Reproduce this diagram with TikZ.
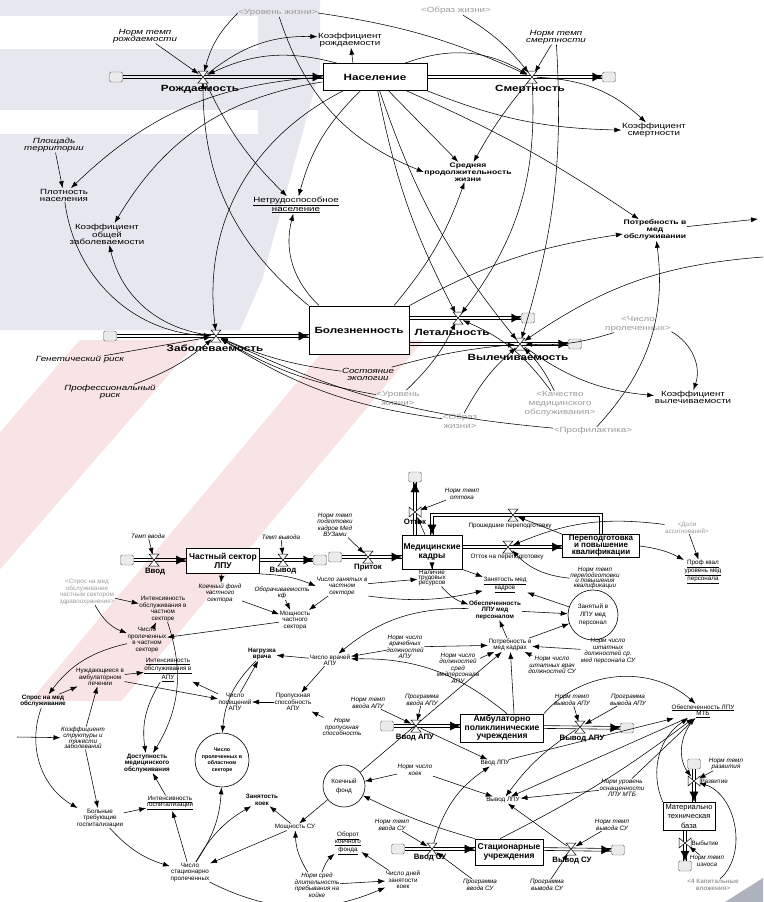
\documentclass[tikz,border=0pt]{standalone}
\usepackage{fontspec}
\setmainfont{Liberation Sans}
\newfontfamily\topfont{Liberation Sans}[FakeStretch=1.3]
\usetikzlibrary{arrows.meta,calc,decorations.markings}

\definecolor{shadowgray}{HTML}{9A9A9A}
\definecolor{lavbg}{HTML}{E7E7EF}
\definecolor{pinkbg}{HTML}{F8E4E4}
\definecolor{swoosh}{HTML}{AEB2BD}

\newcommand\valveh[1]{\draw[valvebox] (#1.center) +(-5,-6) -- +(5,-6) -- +(-5,6) -- +(5,6) -- cycle;}
\newcommand\valvev[1]{\draw[valvebox] (#1.center) +(-6,-5) -- +(-6,5) -- +(6,-5) -- +(6,5) -- cycle;}
% horizontal and vertical flow pipes: two rails and a head
\newcommand\hpipe[2]{%
  \draw[pipeline, transform canvas={yshift=1.4pt}] #1 -- #2;
  \draw[pipeline, transform canvas={yshift=-1.4pt}] #1 -- #2;
  \path[pipehead] #1 -- #2;}
\newcommand\vpipe[2]{%
  \draw[pipeline, transform canvas={xshift=1.4pt}] #1 -- #2;
  \draw[pipeline, transform canvas={xshift=-1.4pt}] #1 -- #2;
  \path[pipehead] #1 -- #2;}

\tikzset{
  t/.style={align=center, inner sep=0.5pt, font=\topfont\fontsize{7.5}{7}\selectfont},
  ti/.style={t, font=\topfont\itshape\fontsize{7.5}{7}\selectfont},
  tg/.style={t, text=shadowgray, font=\topfont\fontsize{7.5}{9}\selectfont},
  tb/.style={t, font=\topfont\bfseries\fontsize{9}{9}\selectfont},
  tbs/.style={t, font=\topfont\bfseries\fontsize{6.6}{7}\selectfont},
  b/.style={align=center, inner sep=0.5pt, font=\fontsize{6.3}{6.5}\selectfont},
  bi/.style={b, font=\itshape\fontsize{6.3}{6.5}\selectfont},
  bg/.style={b, text=shadowgray},
  bb/.style={b, font=\bfseries\fontsize{6.3}{6.5}\selectfont},
  sb/.style={b, font=\bfseries\fontsize{8.5}{8.5}\selectfont},
  flowlbl/.style={b, font=\bfseries\fontsize{7.8}{8}\selectfont},
  stock/.style={draw, fill=white, line width=0.8pt},
  cloudbox/.style={draw=black!60, fill=black!8, rounded corners=1.5pt, minimum width=13pt, minimum height=10pt, inner sep=0pt},
  hub/.style={draw, circle, fill=white, line width=0.6pt, inner sep=0pt},
  valvept/.style={circle, minimum size=10pt, inner sep=0pt},
  valvebox/.style={fill=white, line width=0.5pt},
  link/.style={-{Latex[length=7pt,width=5pt]}, line width=0.55pt},
  pipeline/.style={line width=0.6pt},
  pipehead/.style={postaction={decorate}, decoration={markings, mark=at position 1 with {\arrow{Latex[length=10pt,width=9pt]}}}},
  ccw/.style={bend right=#1},
  cw/.style={bend left=#1},
}

\begin{document}
\begin{tikzpicture}[x=1pt,y=-1pt]
%%%%% START %%%%%
\useasboundingbox (0,0) rectangle (763,902);

% background watermark
\begin{scope}
\clip (0,340) rectangle (763,700);
\draw[pinkbg, line width=90pt] (-60,570) -- (200,270);
\draw[pinkbg, line width=70pt, line cap=round] (60,720) -- (420,290);
\end{scope}
\fill[lavbg] (0,0) -- (320,0) -- (320,70) -- (262,280) -- (240,330) -- (0,330) -- cycle;
\fill[white] (0,16) rectangle (258,49);
\fill[white] (0,110) rectangle (258,134);
\fill[swoosh] (725,902) -- (763,878) -- (763,902) -- cycle;

%%%%% population %%%%%
\node[tg] (shUrov) at (278,13) {<Уровень жизни>};
\node[tg] (shObraz) at (456,11) {<Образ жизни>};
\node[ti] (nBirthRate) at (145,36) {Норм темп\\рождаемости};
\node[t] (kBirth) at (350,40) {Коэффициент\\рождаемости};
\node[ti] (nDeathRate) at (556,37) {Норм темп\\смертности};
\node[cloudbox] (srcBirth) at (116,77) {};
\node[valvept] (birth) at (203,77) {};
\node[tb] (birthLbl) at (200,89) {Рождаемость};
\node[stock, tb, minimum width=104, minimum height=27] (pop) at (375,77) {Население};
\node[valvept] (death) at (532,77) {};
\node[tb] (deathLbl) at (530,89) {Смертность};
\node[cloudbox] (sinkDeath) at (609,77) {};
\node[t] (kDeath) at (654,130) {Коэффициент\\смертности};
\node[tbs] (lifeExp) at (468,172) {Средняя\\продолжительность\\жизни};
\node[ti] (area) at (54,145) {Площадь\\территории};
\node[t] (density) at (64,195) {Плотность\\населения};
\node[t] (kMorb) at (107,234) {Коэффициент\\общей\\заболеваемости};
\node[t] (disabled) at (296,205) {\underline{Нетрудоспособное}\\\underline{население}};
\node[tbs] (needMed) at (655,230) {Потребность в\\мед\\обслуживании};
\coordinate (needOut) at (758,219);
\coordinate (edgeR) at (763,257);

%%%%% morbidity %%%%%
\node[cloudbox] (srcMorb) at (110,336) {};
\node[valvept] (morb) at (216,336) {};
\node[tb] (morbLbl) at (215,348) {Заболеваемость};
\node[stock, tb, minimum width=100, minimum height=48] (illness) at (359,330) {Болезненность};
\node[valvept] (lethal) at (458,318) {};
\node[tb] (lethalLbl) at (452,332) {Летальность};
\node[cloudbox] (sinkLethal) at (528,318) {};
\node[valvept] (cure) at (520,344) {};
\node[tb] (cureLbl) at (518,357) {Вылечиваемость};
\node[cloudbox] (sinkCure) at (575,344) {};
\node[ti] (ecology) at (368,374) {Состояние\\экологии};
\node[tg] (shUrov2) at (398,398) {<Уровень\\жизни>};
\node[tg] (shObraz2) at (460,421) {<Образ\\жизни>};
\node[tg] (shCount) at (638,324) {<Число\\пролеченных>};
\node[ti] (genRisk) at (80,360) {Генетический риск};
\node[ti] (profRisk) at (110,392) {Профессиональный\\риск};
\node[t] (kCure) at (693,397) {Коэффициент\\вылечиваемости};
\node[tg] (shQual) at (560,404) {<Качество\\медицинского\\обслуживания>};
\node[tg] (shProf) at (593,431) {<Профилактика>};

\hpipe{(srcBirth)}{(pop.west |- srcBirth)}
\hpipe{(pop.east |- death)}{(sinkDeath)}
\hpipe{(srcMorb)}{(srcMorb -| illness.west)}
\hpipe{(illness.east |- lethal)}{(sinkLethal)}
\hpipe{(illness.east |- cure)}{(sinkCure)}

\draw[link] (nBirthRate) -- (birth);
\draw[link] (shUrov.west) to[ccw=15] (birth);
\draw[link] (pop.160) to[ccw=20] (birth);
\draw[link] (birth) to[cw=20] (kBirth);
\draw[link] ([xshift=-22]pop.north) -- (kBirth);
\draw[link] (nDeathRate) -- (death);
\draw[link] (shObraz) to[cw=10] (death);
\draw[link] (shUrov.east) to[cw=8] (death);
\draw[link] ([xshift=30]pop.north) to[cw=25] (death);
\draw[link] (death) to[cw=20] (kDeath);
\draw[link] (pop.south east) to[ccw=10] (kDeath);
\draw[link] (pop) -- (lifeExp);
\draw[link] (death) to[ccw=5] (lifeExp);
\draw[link] (shUrov) to[ccw=25] (lifeExp.west);
\draw[link] (pop) to[ccw=15] (disabled);
\draw[link] (birth) to[ccw=10] (disabled);
\draw[link] (pop.west) to[ccw=20] (density);
\draw[link] (area) -- (density);
\draw[link] (pop) to[ccw=25] (kMorb);
\draw[link] (density) to[ccw=40] (morb);
\draw[link] (morb) to[cw=35] (kMorb);
\draw[link] (pop) to[ccw=35] (morb);
\draw[link] (illness.north west) to[cw=25] (birth);
\draw[link] (genRisk) -- (morb);
\draw[link] (profRisk) to[ccw=10] (morb);
\draw[link] (ecology) to[cw=8] (morb);
\draw[link] (shUrov2) to[cw=10] (morb);
\draw[link] (shObraz2) to[cw=12] (morb);
\draw[link] (shProf) to[cw=10] (morb);
\draw[link] (shProf) to[ccw=25] (needMed);
\draw[link] ([xshift=-40]illness.north) to[cw=30] (disabled);
\draw[link] (illness.north east) to[cw=10] (needMed);
\draw[link] (pop) to[ccw=8] (lethal);
\draw[link] (pop) to[ccw=10] (cure);
\draw[link] ([xshift=35]illness.north) to[ccw=10] (lifeExp);
\draw[link] (cure) to[ccw=15] (kCure);
\draw[link] (shCount) to[cw=10] (cure);
\draw[link] (shCount) to[cw=40] (kCure);
\draw[link] (shQual) to[ccw=10] (cure);
\draw[link] (shQual) to[ccw=15] (lethal);
\draw[link] (edgeR) to[ccw=15] (cure);
\draw[link] (pop) to[cw=5] (needMed);
\draw[link] (nDeathRate) to[cw=10] (cure);
\draw[link] (death) to[cw=20] (lethal);
\draw[link] (ecology) to[cw=5] (cure);
\draw[link] (shUrov2) to[ccw=10] (lethal);
\draw[link] (shObraz2) to[cw=10] (cure);
\draw[link] (needMed) -- (needOut);

\valveh{birth}
\valveh{death}
\valveh{morb}
\valveh{lethal}
\valveh{cure}

%%%%% private sector and staff %%%%%
\node[bi] (tempIn) at (148,536) {Темп ввода};
\node[cloudbox] (srcPriv) at (127,560) {};
\node[valvept] (pIn) at (154,560) {};
\node[flowlbl] (pInLbl) at (155,572) {Ввод};
\node[stock, sb, minimum width=73, minimum height=25] (privSec) at (223,561) {Частный сектор\\ЛПУ};
\node[valvept] (pOut) at (283,560) {};
\node[flowlbl] (pOutLbl) at (283,571) {Вывод};
\node[cloudbox] (sinkPriv) at (320,560) {};
\node[bi] (tempOut) at (281,537) {Темп вывода};
\node[bi] (bedsPriv) at (220,593) {Коечный фонд\\частного\\сектора};
\node[bi] (turnover) at (282,593) {Оборачиваемость\\кф};
\node[bi] (busyPriv) at (342,586) {Число занятых в\\частном\\секторе};
\node[b] (powPriv) at (295,620) {Мощность\\частного\\сектора};
\node[cloudbox] (srcStaff) at (335,557) {};
\node[valvept] (inflow) at (368,557) {};
\node[flowlbl] (inflowLbl) at (368,568) {Приток};
\node[bi] (nTrain) at (335,525) {Норм темп\\подготовки\\кадров Мед\\ВУЗами};
\node[stock, sb, minimum width=60, minimum height=34] (staff) at (432,552) {Медицинские\\кадры};
\node[valvept] (outflow) at (415,512) {};
\node[flowlbl] (outflowLbl) at (415,522) {Отток};
\node[cloudbox] (sinkStaff) at (415,477) {};
\node[bi] (nOut) at (462,494) {Норм темп\\оттока};
\coordinate (loopTL) at (432,515);
\coordinate (loopTR) at (601,515);
\node[valvept] (retrained) at (513,515) {};
\node[b] (retrainedLbl) at (510,526) {Прошедшие переподготовку};
\node[valvept] (toRetrain) at (508,547) {};
\node[b] (toRetrainLbl) at (507,557) {Отток на переподготовку};
\node[stock, sb, font=\bfseries\fontsize{8}{7}\selectfont, minimum width=77, minimum height=23] (retrain) at (601,546) {Переподготовка\\и повышение\\квалификации};
\node[bg] (shShare) at (687,528) {<Доли\\ассигнований>};
\node[b] (profLevel) at (703,572) {\underline{Проф квал}\\\underline{уровень мед}\\\underline{персонала}};
\node[bi, font=\itshape\fontsize{6.3}{5}\selectfont] (nRetrain) at (595,578) {Норм темп\\переподготовки\\и повышения\\квалификации};
\node[b, font=\fontsize{6.3}{5}\selectfont] (labour) at (432,578) {Наличие\\трудовых\\ресурсов};
\node[b] (employ) at (505,585) {\underline{Занятость мед}\\\underline{кадров}};
\node[bb] (provStaff) at (495,610) {Обеспеченность\\ЛПУ мед\\персоналом};
\node[hub, b, font=\fontsize{6.3}{8}\selectfont, minimum size=50] (hubStaff) at (593,615) {Занятый в\\ЛПУ мед\\персонал};
\node[b] (needStaff) at (510,645) {Потребность в\\мед кадрах};
\node[bi] (nMidSU) at (608,651) {Норм число\\штатных\\должностей ср.\\мед персонала СУ};
\node[bi] (nDocSU) at (552,665) {Норм число\\штатных врач\\должностей СУ};
\node[bi] (nDocAPU) at (405,647) {Норм число\\врачебных\\должностей\\АПУ};
\node[b] (docAPU) at (330,660) {Число врачей\\АПУ};
\node[bb] (load) at (262,654) {Нагрузка\\врача};
\node[bi] (nMidAPU) at (458,668) {Норм число\\должностей\\сред\\медперсонала\\АПУ};

\hpipe{(srcPriv)}{(srcPriv -| privSec.west)}
\hpipe{(privSec.east |- pOut)}{(sinkPriv)}
\hpipe{(srcStaff)}{(srcStaff -| staff.west)}
\vpipe{(staff.north -| outflow)}{(sinkStaff)}
\hpipe{(staff.east |- toRetrain)}{(toRetrain -| retrain.west)}
% retraining loop back into the staff stock
\draw[pipeline] ([xshift=1.4]retrain.north) -- ($(loopTR)+(1.4,-1.4)$) -- ($(loopTL)+(-1.4,-1.4)$) -- ([xshift=-1.4]staff.north);
\draw[pipeline] ([xshift=-1.4]retrain.north) -- ($(loopTR)+(-1.4,1.4)$) -- ($(loopTL)+(1.4,1.4)$) -- ([xshift=1.4]staff.north);
\path[pipehead] (loopTL) -- (staff.north);

\draw[link] (tempIn) -- (pIn);
\draw[link] (tempOut) -- (pOut);
\draw[link] (privSec) -- (bedsPriv);
\draw[link] (bedsPriv) -- (powPriv);
\draw[link] (turnover) -- (powPriv);
\draw[link] (busyPriv) -- (powPriv);
\draw[link] (privSec.south east) to[cw=10] (busyPriv.west);
\draw[link] (busyPriv) -- (labour);
\draw[link] (busyPriv.south east) to[ccw=10] (employ);
\draw[link] (staff) -- (labour);
\draw[link] (labour) to[ccw=15] (provStaff);
\draw[link] (staff.south east) -- (employ);
\draw[link] (hubStaff) -- (employ);
\draw[link] (provStaff) -- (hubStaff);
\draw[link] (needStaff) -- (hubStaff);
\draw[link] (nMidSU) -- (needStaff);
\draw[link] (nDocSU) -- (needStaff);
\draw[link] (needStaff) -- (provStaff);
\draw[link] (nDocAPU) -- (needStaff);
\draw[link] (nDocAPU) -- (docAPU);
\draw[link] (nMidAPU) -- (needStaff);
\draw[link] (provStaff) to[ccw=20] (docAPU);
\draw[link] (docAPU) -- (load);
\draw[link] (shShare) -- (profLevel);
\draw[link] (retrain.east) to[cw=10] (profLevel);
\draw[link] (shShare) to[ccw=15] (toRetrain);
\draw[link] (retrain.north west) -- (retrained);
\draw[link] (nRetrain) to[cw=20] (toRetrain);
\draw[link] (nOut) -- (outflow);
\draw[link] ([xshift=-7]staff.north) -- (outflow);
\draw[link] (nTrain) -- (inflow);

\valveh{pIn}
\valveh{pOut}
\valveh{inflow}
\valvev{outflow}
\valveh{retrained}
\valveh{toRetrain}

%%%%% demand and institutions %%%%%
\node[bg] (shDemand) at (87,592) {<Спрос на мед\\обслуживание\\частным сектором\\здравоохранения>};
\node[b] (intPriv) at (163,609) {Интенсивность\\обслуживания в\\частном\\секторе};
\node[b] (curedPriv) at (147,640) {Число\\пролеченных\\в частном\\секторе};
\node[b] (needAmb) at (100,677) {Нуждающиеся в\\амбулаторном\\лечении};
\node[b] (intAPU) at (168,670) {\underline{Интенсивность}\\\underline{обслуживания в}\\\underline{АПУ}};
\node[bb] (demand) at (43,701) {Спрос на мед\\обслуживание};
\node[b] (visits) at (235,702) {Число\\посещений\\АПУ};
\node[b] (capAPU) at (293,702) {Пропускная\\способность\\АПУ};
\node[bi] (nTempInAPU) at (368,703) {Норм темп\\ввода АПУ};
\node[bi] (progInAPU) at (422,700) {Программа\\ввода АПУ};
\node[bi] (nCap) at (342,727) {Норм\\пропускная\\способность};
\node[cloudbox] (srcAPU) at (387,726) {};
\node[valvept] (inAPU) at (416,726) {};
\node[flowlbl] (inAPULbl) at (415,738) {Ввод АПУ};
\node[stock, sb, minimum width=83, minimum height=28] (apu) at (502,728) {Амбулаторно\\поликлинические\\учреждения};
\node[valvept] (outAPU) at (580,727) {};
\node[flowlbl] (outAPULbl) at (582,739) {Вывод АПУ};
\node[cloudbox] (sinkAPU) at (627,728) {};
\node[bi] (nTempOutAPU) at (572,700) {Норм темп\\вывода АПУ};
\node[bi] (progOutAPU) at (628,700) {Программа\\вывода АПУ};
\node[b] (provMTB) at (703,711) {\underline{Обеспеченность ЛПУ}\\\underline{МТБ}};
\node[hub, b, font=\bfseries\fontsize{5.3}{6.5}\selectfont, minimum size=54] (hubCured) at (222,760) {Число\\пролеченных в\\областном\\секторе};
\node[bb] (access) at (147,763) {Доступность\\медицинского\\обслуживания};
\node[bi, font=\itshape\fontsize{6.3}{4.5}\selectfont] (kSev) at (83,738) {Коэффициент\\структуры и\\тяжести\\заболеваний};
\coordinate (edgeL) at (17,737);
\node[b] (sick) at (100,818) {Больные\\требующие\\госпитализации};
\node[b] (intHosp) at (170,803) {\underline{Интенсивность}\\\underline{госпитализации}};
\node[b] (curedHosp) at (190,872) {Число\\стационарно\\пролеченных};
\node[bb] (bedLoad) at (262,800) {Занятость\\коек};
\node[b] (powSU) at (295,827) {Мощность СУ};
\node[hub, b, font=\fontsize{6.3}{9}\selectfont, minimum size=42] (hubBeds) at (344,786) {Коечный\\фонд};
\node[bi] (nBeds) at (415,770) {Норм число\\коек};
\node[b] (inLPU) at (495,763) {Ввод ЛПУ};
\node[b] (outLPU) at (503,800) {Вывод ЛПУ};
\node[bi] (nEquip) at (622,788) {Норм уровень\\оснащенности\\ЛПУ МТБ};
\node[cloudbox] (srcMTB) at (694,764) {};
\node[valvept] (dev) at (694,781) {};
\node[b, anchor=west] (devLbl) at (700,781) {Развитие};
\node[bi] (nDev) at (726,764) {Норм темп\\развития};
\node[stock, b, font=\fontsize{7.5}{9.5}\selectfont, line width=0.6pt, minimum width=52, minimum height=28] (mtb) at (689,816) {Материально\\техническая\\база};
\node[valvept] (wear) at (685,843) {};
\node[b, anchor=west] (wearLbl) at (691,843) {Выбытие};
\node[cloudbox] (sinkMTB) at (685,866) {};
\node[bi] (nWear) at (707,861) {Норм темп\\износа};
\node[bg, font=\bfseries\fontsize{6.3}{6.5}\selectfont] (shInvest) at (713,885) {<4 Капитальные\\вложения>};
\node[b] (bedTurn) at (348,843) {\underline{Оборот}\\\underline{коечного}\\\underline{фонда}};
\node[bi] (nTempInSU) at (392,825) {Норм темп\\ввода СУ};
\node[cloudbox] (srcSU) at (398,849) {};
\node[valvept] (inSU) at (432,849) {};
\node[flowlbl] (inSULbl) at (430,858) {Ввод СУ};
\node[stock, sb, minimum width=68, minimum height=26] (su) at (509,852) {Стационарные\\учреждения};
\node[valvept] (outSU) at (571,849) {};
\node[flowlbl] (outSULbl) at (572,861) {Вывод СУ};
\node[cloudbox] (sinkSU) at (618,850) {};
\node[bi] (nTempOutSU) at (612,825) {Норм темп\\вывода СУ};
\node[bi] (progOutSU) at (547,885) {Программа\\вывода СУ};
\node[bi] (progInSU) at (480,885) {Программа\\ввода СУ};
\node[b] (bedDays) at (403,880) {Число дней\\занятости\\коек};
\node[bi] (nStay) at (317,885) {Норм сред\\длительность\\пребывания на\\койке};

\hpipe{(srcAPU)}{(srcAPU -| apu.west)}
\hpipe{(apu.east |- outAPU)}{(sinkAPU)}
\hpipe{(srcSU)}{(srcSU -| su.west)}
\hpipe{(su.east |- outSU)}{(sinkSU)}
\vpipe{(srcMTB)}{(srcMTB |- mtb.north)}
\vpipe{(mtb.south -| wear)}{(sinkMTB)}

\draw[link] (docAPU) -- (capAPU);
\draw[link] (nCap) -- (capAPU);
\draw[link] (capAPU) -- (visits);
\draw[link] ([xshift=5]apu.north) to[ccw=20] (docAPU);
\draw[link] ([xshift=12]apu.north) -- (needStaff);
\draw[link] (apu.north east) to[cw=45] (provMTB);
\draw[link] (inAPU) -- (inLPU);
\draw[link] (nTempInAPU) -- (inAPU);
\draw[link] (progInAPU) -- (inAPU);
\draw[link] (nTempOutAPU) -- (outAPU);
\draw[link] (progOutAPU) -- (outAPU);
\draw[link] (outAPU) to[ccw=10] (outLPU);
\draw[link] (hubBeds) -- (powSU);
\draw[link] (nBeds) -- (hubBeds);
\draw[link] (nBeds) -- (outLPU);
\draw[link] (su.north west) to[cw=5] (hubBeds);
\draw[link] (hubBeds) -- (needStaff);
\draw[link] (inSU) to[cw=20] (inLPU);
\draw[link] (outSU) -- (outLPU);
\draw[link] (nTempInSU) -- (inSU);
\draw[link] (progInSU) -- (inSU);
\draw[link] (nTempOutSU) -- (outSU);
\draw[link] (progOutSU) -- (outSU);
\draw[link] ([xshift=-9]su.north) to[ccw=5] (provMTB);
\draw[link] (inLPU) -- (provMTB);
\draw[link] (provMTB) -- (outLPU);
\draw[link] (nEquip) -- (outLPU);
\draw[link] (nEquip) -- (provMTB);
\draw[link] (provMTB) to[ccw=40] (dev);
\draw[link] (mtb.north west) to[cw=40] (provMTB);
\draw[link] (nDev) -- (dev);
\draw[link] (shInvest) to[ccw=60] (dev);
\draw[link] (nWear) -- (wear);
\draw[link] (shDemand) -- (intPriv);
\draw[link] (shDemand) to[ccw=20] (curedPriv);
\draw[link] (curedPriv) -- (intPriv);
\draw[link] (powPriv) -- (curedPriv);
\draw[link] (intPriv) to[cw=25] (access);
\draw[link] (curedPriv) to[ccw=20] (demand);
\draw[link] (needAmb) -- (intAPU);
\draw[link] (demand) -- (needAmb);
\draw[link] (needAmb) -- (visits);
\draw[link] (visits) -- (intAPU);
\draw[link] (intAPU) to[ccw=20] (access);
\draw[link] (demand) to[ccw=40] (sick);
\draw[link] (kSev) -- (needAmb);
\draw[link] (kSev) -- (sick);
\draw[link] (edgeL) -- (kSev);
\draw[link] (sick) -- (intHosp);
\draw[link] (sick) to[ccw=15] (curedHosp);
\draw[link] (intHosp) -- (access);
\draw[link] (curedHosp) -- (intHosp);
\draw[link] (curedHosp) to[ccw=15] (hubCured);
\draw[link] (curedHosp) to[cw=15] (bedLoad);
\draw[link] (powSU) -- (curedHosp);
\draw[link] (powSU) -- (bedLoad);
\draw[link] (visits) -- (load);
\draw[link] (load) to[ccw=20] (hubCured);
\draw[link] (curedHosp) to[ccw=25] (bedDays);
\draw[link] (bedDays) -- (bedTurn);
\draw[link] (nStay) to[cw=15] (bedTurn);
\draw[link] (nStay) to[cw=15] (powSU);
\draw[link] (nStay) -- (bedDays);

\valveh{inAPU}
\valveh{outAPU}
\valveh{inSU}
\valveh{outSU}
\valvev{dev}
\valvev{wear}

%%%%% END %%%%%
\end{tikzpicture}
\end{document}
